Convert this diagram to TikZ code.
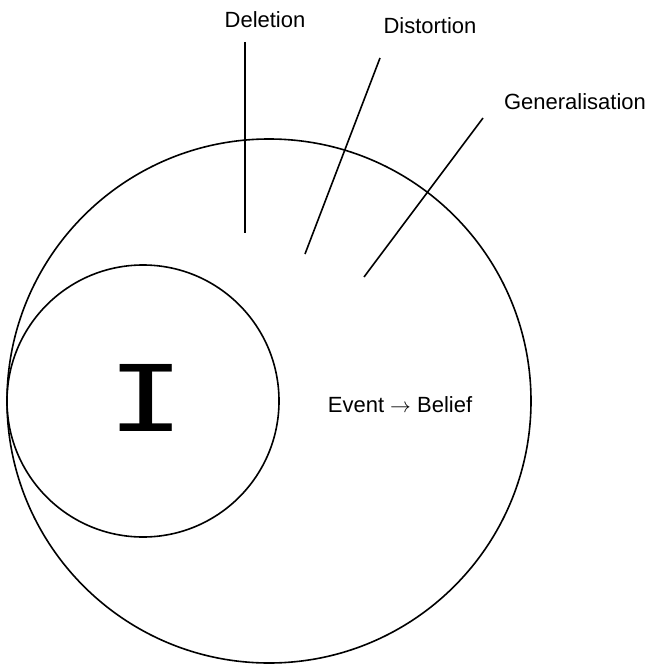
\documentclass[tikz,border=0pt]{standalone}
\usepackage{fontspec}
\setmainfont{Liberation Sans}
\newfontfamily\monoI{DejaVu Sans Mono}
\begin{document}
\begin{tikzpicture}[x=1pt,y=-1pt,
  stroke/.style={line width=1.6pt,black},
  lbl/.style={inner sep=0pt,font=\fontsize{22}{26}\selectfont}]
\useasboundingbox (0,0) rectangle (662,666);
\node[stroke,draw,circle,minimum size=524pt,inner sep=0pt] (outer) at (269,401) {};
\node[stroke,draw,circle,minimum size=272pt,inner sep=0pt] (inner) at (143,401) {};
\node[inner sep=0pt,font=\monoI\fontsize{92}{92}\selectfont] (ego) at (146,398) {\scalebox{1.4}[1]{I}};
\node[lbl] (eb) at (400,405) {Event $\rightarrow$ Belief};
\node[lbl] (del) at (265,20) {Deletion};
\node[lbl] (dis) at (430,26) {Distortion};
\node[lbl] (gen) at (575,102) {Generalisation};
\coordinate (d1) at (245,42); \coordinate (d2) at (245,233);
\coordinate (s1) at (380,58); \coordinate (s2) at (305,254);
\coordinate (g1) at (483,118); \coordinate (g2) at (364,277);
\draw[stroke] (d1) -- (d2);
\draw[stroke] (s1) -- (s2);
\draw[stroke] (g1) -- (g2);
\end{tikzpicture}
\end{document}
